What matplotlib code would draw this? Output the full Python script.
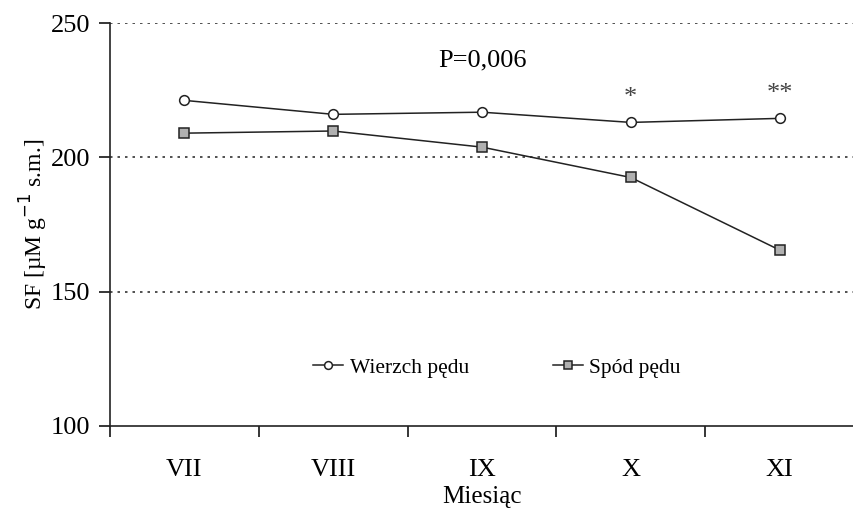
import matplotlib
matplotlib.use("Agg")
import matplotlib.pyplot as plt
import numpy as np

months = ["VII", "VIII", "IX", "X", "XI"]
wierzch = [221.2, 216.0, 216.8, 213.0, 214.5]
spod = [209.0, 209.8, 203.8, 192.5, 165.5]
stars = ["", "", "", "*", "**"]
p_text = "P=0,006"

plt.rcParams['font.family'] = ['Liberation Serif', 'DejaVu Serif']

fig = plt.figure(figsize=(8.54, 5.15), dpi=100)
ax = fig.add_axes([110/854, 1-426/515, (854-110)/854, (426-23)/515])

x = np.arange(len(months))
ax.plot(x, wierzch, '-', color='#222222', lw=1.1, marker='o', ms=7,
        mfc='white', mec='#222222', mew=1.1, label='Wierzch pędu', zorder=3)
ax.plot(x, spod, '-', color='#222222', lw=1.1, marker='s', ms=7,
        mfc='#b0b0b0', mec='#222222', mew=1.1, label='Spód pędu', zorder=3)

for xi, yi, s in zip(x, wierzch, stars):
    if s:
        ax.text(xi, yi + 5, s, ha='center', va='bottom', fontsize=19, color='#444444')

ax.text(2.0, 236, p_text, ha='center', va='center', fontsize=19)

ax.set_xlim(-0.5, 4.5)
ax.set_ylim(100, 250)
ax.set_yticks([100, 150, 200, 250])
for yv in [150, 200, 250]:
    ax.axhline(yv, color='#333333', lw=1.2, ls=(0, (1.5, 3)), zorder=1)

ax.set_xticks(np.arange(-0.5, 4.0, 1.0))
ax.set_xticklabels([])
ax.set_xticks(x, minor=True)
ax.set_xticklabels(months, minor=True, fontsize=19)
ax.tick_params(axis='x', which='minor', length=0, pad=24)
ax.tick_params(axis='x', which='major', length=8, width=1.1, direction='out')
ax.tick_params(axis='y', length=8, width=1.1, direction='out', labelsize=19, pad=6)

for side in ['top', 'right']:
    ax.spines[side].set_visible(False)
for side in ['left', 'bottom']:
    ax.spines[side].set_linewidth(1.2)
    ax.spines[side].set_color('#222222')

ax.set_xlabel('Miesiąc', fontsize=18, labelpad=3)
ax.set_ylabel('SF [µM g$^{-1}$ s.m.]', fontsize=17, labelpad=1)

leg = ax.legend(loc='center', bbox_to_anchor=(0.52, 0.144), ncol=2, frameon=False,
                fontsize=15.5, handlelength=1.4, handletextpad=0.3, columnspacing=3.9,
                markerscale=0.8)

fig.savefig('out.png', dpi=100)
